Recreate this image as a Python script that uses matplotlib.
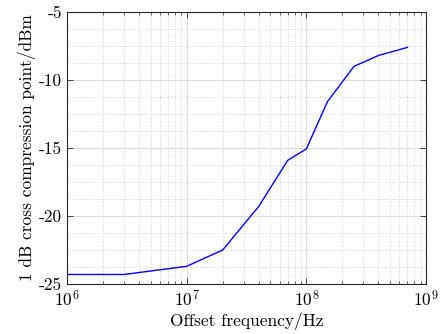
import numpy as np
import matplotlib
matplotlib.use('Agg')
import matplotlib.pyplot as plt
from matplotlib.ticker import LogLocator, MultipleLocator, FixedLocator

# offset frequency (Hz) and 1 dB cross compression point (dBm)
freq = [1e6, 3e6, 1e7, 2e7, 4e7, 7e7, 1e8, 1.5e8, 2.5e8, 4e8, 7e8]
p1db = [-24.3, -24.3, -23.7, -22.5, -19.3, -15.9, -15.07, -11.6, -9.0, -8.2, -7.6]

yticks = [-25, -20, -15, -10, -5]
yticklabels = ['-25', '-20', '-15', '-10', '-5']

plt.rcParams['font.family'] = 'serif'
plt.rcParams['font.serif'] = ['cmr10']
plt.rcParams['mathtext.fontset'] = 'cm'
plt.rcParams['axes.unicode_minus'] = False
plt.rcParams['axes.formatter.use_mathtext'] = True

fig = plt.figure(figsize=(4.43, 3.34), dpi=100)
ax = fig.add_axes([67/443, 1 - 284/334, (426-67)/443, (284-12)/334])

ax.plot(freq, p1db, color=(0, 0, 1), lw=1.0)

ax.set_xscale('log')
ax.set_xlim(1e6, 1e9)
ax.set_ylim(-25, -5)
ax.set_yticks(yticks)
ax.set_yticklabels(yticklabels)
ax.xaxis.set_major_locator(FixedLocator([1e6, 1e7, 1e8, 1e9]))
ax.xaxis.set_minor_locator(LogLocator(base=10, subs=np.arange(2, 10)))
ax.yaxis.set_minor_locator(MultipleLocator(1.25))
ax.set_xticklabels([r'$10^{6}$', r'$10^{7}$', r'$10^{8}$', r'$10^{9}$'])

ax.grid(which='major', color='#dcdcdc', lw=0.8, ls='-')
ax.grid(which='minor', color='#c8c8c8', lw=0.6, ls=(0, (1, 2)))
ax.set_axisbelow(True)

ax.tick_params(which='both', direction='in', top=True, right=True, labelsize=12.5, color='#262626')
ax.tick_params(which='major', length=4, width=0.6)
ax.tick_params(axis='x', which='minor', length=2.5, width=0.5)
ax.tick_params(axis='y', which='minor', length=0)
for s in ax.spines.values():
    s.set_color('#262626')
    s.set_linewidth(0.8)

ax.set_xlabel('Offset frequency/Hz', fontsize=12.5, labelpad=2)
ax.set_ylabel('1 dB cross compression point/dBm', fontsize=12.5, labelpad=2)

fig.savefig('out.png', dpi=100)
